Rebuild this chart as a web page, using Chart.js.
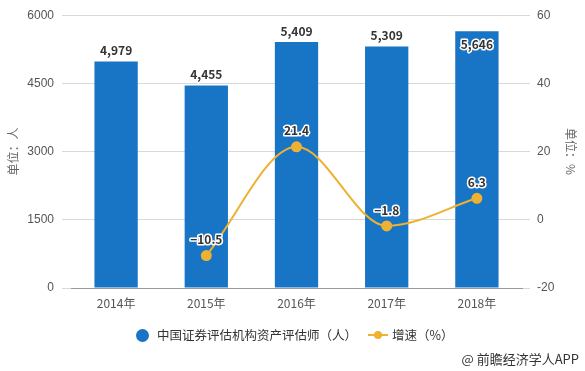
<!DOCTYPE html>
<html>
<head>
<meta charset="utf-8">
<script src="https://cdn.jsdelivr.net/npm/chart.js@4/dist/chart.umd.min.js"></script>
<style>
  body { margin: 0; background: #fff; font-family: "Noto Sans CJK SC", sans-serif; }
  #wrap { position: relative; width: 585px; height: 371px; }
  .item { position: absolute; top: 325px; font-size: 12.5px; color: #333; white-space: nowrap; }
  .dot { position: absolute; left: 136px; top: 329px; width: 13px; height: 13px; border-radius: 50%; background: #1874c4; }
  .lineMark { position: absolute; left: 368px; top: 334px; width: 20px; height: 2px; background: #eeb132; }
  .lineMark:after { content: ""; position: absolute; left: 6px; top: -3px; width: 8px; height: 8px; border-radius: 50%; background: #eeb132; }
  #source { position: absolute; top: 349px; right: 6px; font-size: 13px; color: #333; }
</style>
</head>
<body>
<div id="wrap">
  <canvas id="c" width="585" height="371"></canvas>
  <span class="dot"></span><span class="item" style="left:157px">中国证券评估机构资产评估师（人）</span>
  <span class="lineMark"></span><span class="item" style="left:392px">增速（%）</span>
  <div id="source">@ 前瞻经济学人APP</div>
</div>
<script>
var years = ["2014年", "2015年", "2016年", "2017年", "2018年"];
var counts = [4979, 4455, 5409, 5309, 5646];
var growth = [null, -10.5, 21.4, -1.8, 6.3];
var barColor = "#1874c4";
var lineColor = "#eeb132";

var labelPlugin = {
    id: "labels",
    afterDatasetsDraw: function (chart) {
        var ctx = chart.ctx;
        ctx.save();
        ctx.font = "bold 12px 'Noto Sans CJK SC', sans-serif";
        ctx.textAlign = "center";
        ctx.textBaseline = "middle";
        ctx.lineJoin = "round";
        var bars = chart.getDatasetMeta(0).data;
        bars.forEach(function (bar, i) {
            var y = bar.y - 11;
            if (y < chart.chartArea.top + 8) y = bar.y + 13;
            ctx.strokeStyle = "#fff";
            ctx.lineWidth = 3;
            ctx.strokeText(counts[i].toLocaleString("en-US"), bar.x, y);
            ctx.fillStyle = "#333";
            ctx.fillText(counts[i].toLocaleString("en-US"), bar.x, y);
        });
        var pts = chart.getDatasetMeta(1).data;
        pts.forEach(function (p, i) {
            if (growth[i] === null) return;
            var txt = growth[i] < 0 ? "\u2212" + Math.abs(growth[i]) : String(growth[i]);
            ctx.strokeStyle = "#fff";
            ctx.lineWidth = 3;
            ctx.strokeText(txt, p.x, p.y - 16);
            ctx.fillStyle = "#333";
            ctx.fillText(txt, p.x, p.y - 16);
        });
        ctx.restore();
    }
};

function plain(v) { return String(v); }

new Chart(document.getElementById("c"), {
    data: {
        labels: years,
        datasets: [{
            type: "bar",
            label: "中国证券评估机构资产评估师（人）",
            data: counts,
            backgroundColor: barColor,
            yAxisID: "y",
            barPercentage: 0.48,
            categoryPercentage: 1,
            order: 2
        }, {
            type: "line",
            label: "增速（%）",
            data: growth,
            borderColor: lineColor,
            backgroundColor: lineColor,
            borderWidth: 2,
            pointRadius: 4.5,
            pointBackgroundColor: lineColor,
            pointBorderColor: lineColor,
            cubicInterpolationMode: "monotone",
            yAxisID: "y1",
            order: 1
        }]
    },
    options: {
        responsive: false,
        animation: false,
        layout: { padding: { top: 15, left: 0, right: 0, bottom: 0 } },
        plugins: { legend: { display: false }, tooltip: { enabled: false } },
        scales: {
            x: {
                grid: { display: false, drawTicks: true, tickLength: 6 },
                border: { color: "#999" },
                ticks: { color: "#555", font: { size: 12, family: "'Noto Sans CJK SC', sans-serif" }, padding: 2 },
                afterFit: function (s) { s.height = 83; }
            },
            y: {
                position: "left",
                min: 0, max: 6000,
                ticks: { stepSize: 1500, color: "#555", padding: 8, font: { size: 12 }, callback: plain },
                grid: { color: "#d9d9d9", tickLength: 9 },
                border: { display: false },
                title: { display: true, text: "单位：人", color: "#666", font: { size: 12, family: "'Noto Sans CJK SC', sans-serif" }, padding: { top: 6, bottom: 0 } },
                afterFit: function (s) { s.width = 71; }
            },
            y1: {
                position: "right",
                min: -20, max: 60,
                ticks: { stepSize: 20, color: "#555", padding: 7, font: { size: 12 }, callback: plain },
                grid: { color: "#d9d9d9", tickLength: 8, drawOnChartArea: false },
                border: { display: false },
                title: { display: true, text: "单位：%", color: "#666", font: { size: 12, family: "'Noto Sans CJK SC', sans-serif" }, padding: { top: 7, bottom: 0 } },
                afterFit: function (s) { s.width = 63; }
            }
        }
    },
    plugins: [labelPlugin]
});
</script>
</body>
</html>
